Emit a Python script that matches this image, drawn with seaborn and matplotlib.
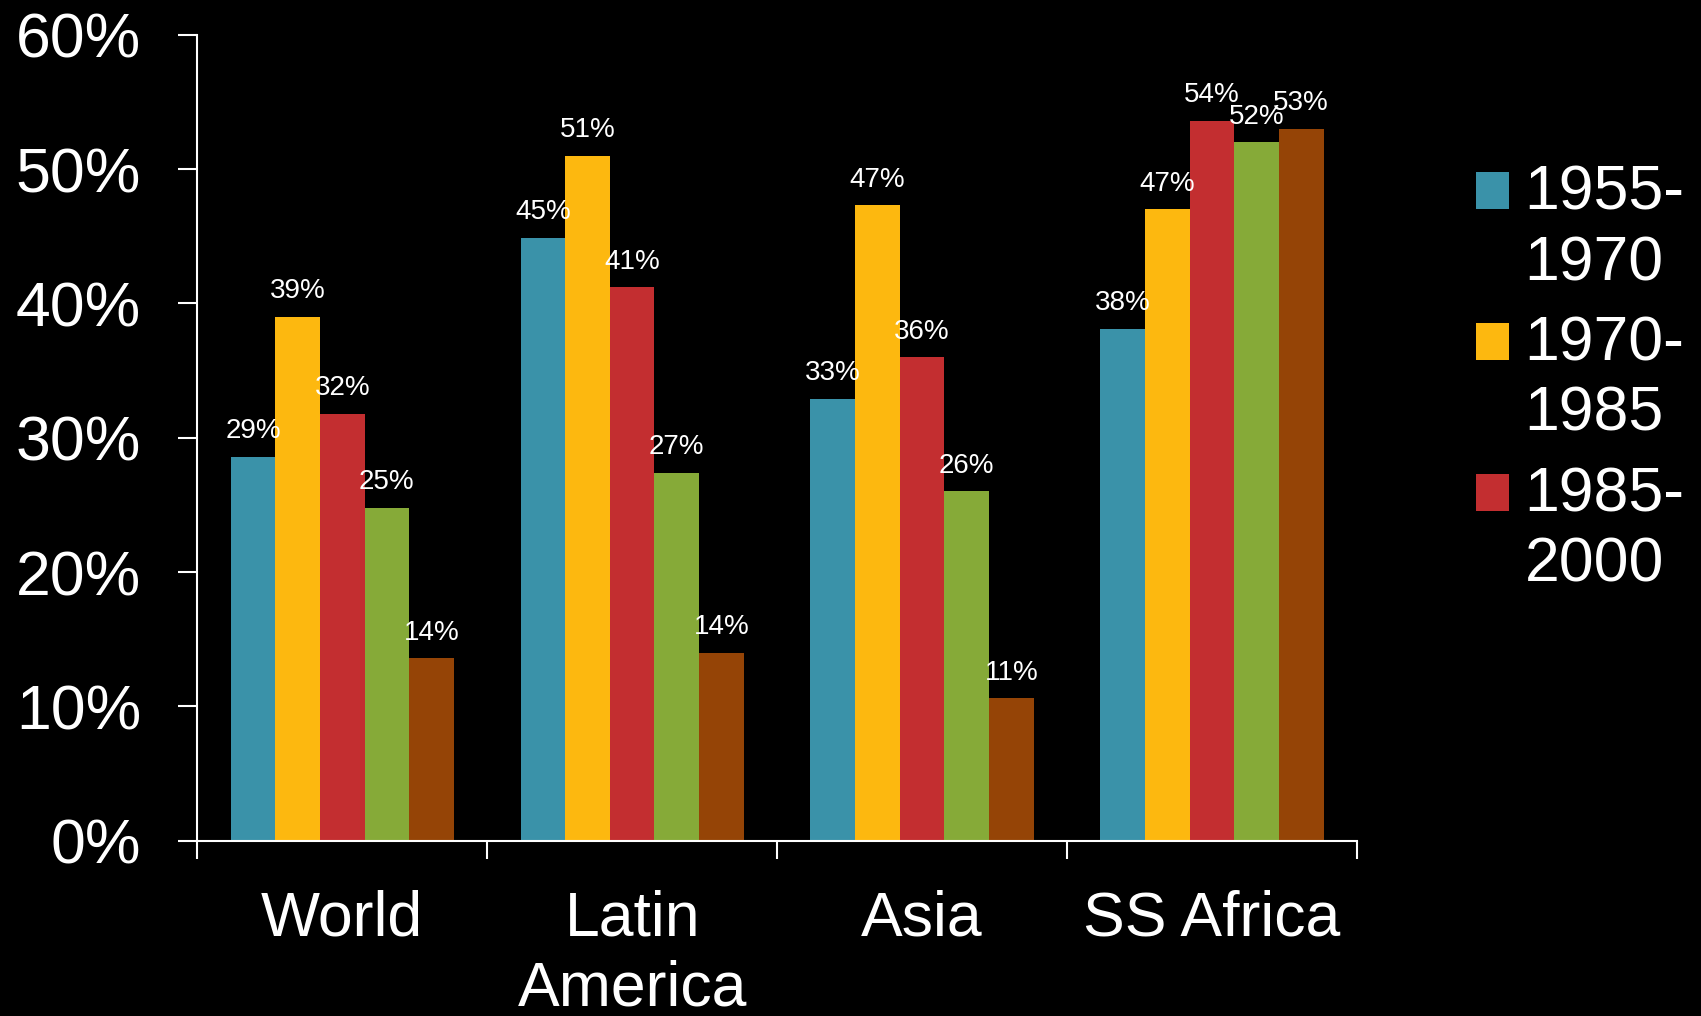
import matplotlib
matplotlib.use("Agg")
import matplotlib.pyplot as plt
import numpy as np
import pandas as pd
import seaborn as sns
from matplotlib.patches import Patch, Rectangle
from matplotlib.legend_handler import HandlerPatch
from matplotlib.ticker import PercentFormatter

# Share of growth by region and period (percent)
regions = ["World", "Latin\nAmerica", "Asia", "SS Africa"]
periods = ["1955-1970", "1970-1985", "1985-2000", "2000-2015", "2015-2030"]
p1955_1970 = [28.6, 44.9, 32.9, 38.1]
p1970_1985 = [39.0, 51.0, 47.3, 47.0]
p1985_2000 = [31.8, 41.2, 36.0, 53.6]
p2000_2015 = [24.8, 27.4, 26.0, 52.0]
p2015_2030 = [13.6, 14.0, 10.6, 53.0]
colors = ["#3A92A9", "#FDB80F", "#C32E30", "#86AA38", "#954406"]
legend_labels = ["1955-\n1970", "1970-\n1985", "1985-\n2000"]

series = [p1955_1970, p1970_1985, p1985_2000, p2000_2015, p2015_2030]
df = pd.DataFrame(
    [(r, p, v) for p, vals in zip(periods, series) for r, v in zip(regions, vals)],
    columns=["region", "period", "value"],
)

sns.set_style("ticks", rc={
    "figure.facecolor": "black",
    "axes.facecolor": "black",
    "axes.edgecolor": "white",
    "xtick.color": "white",
    "ytick.color": "white",
    "text.color": "white",
})
plt.rcParams["font.family"] = ["Liberation Sans", "DejaVu Sans"]

fig = plt.figure(figsize=(17.01, 10.16), dpi=100)
ax = fig.add_axes([0.116, 0.1725, 0.6817, 0.7933])

sns.barplot(data=df, x="region", y="value", hue="period", order=regions,
            hue_order=periods, palette=colors, width=0.77, saturation=1,
            edgecolor="none", legend=False, ax=ax)

for c in ax.containers:
    ax.bar_label(c, fmt="{:.0f}%", padding=9, color="white", fontsize=20)

ax.set_ylim(0, 60)
ax.set_xlim(-0.5, 3.5)
ax.set_yticks(np.arange(0, 61, 10))
ax.yaxis.set_major_formatter(PercentFormatter(xmax=100, decimals=0))
ax.set_xticks([-0.5, 0.5, 1.5, 2.5, 3.5])
ax.set_xticklabels([])
ax.set_xticks(range(len(regions)), minor=True)
ax.set_xticklabels(regions, minor=True)
for t in ax.get_xticklabels(minor=True):
    t.set_linespacing(1.25)
ax.set_xlabel("")
ax.set_ylabel("")

ax.tick_params(axis="x", which="major", length=13, width=1.5, direction="out")
ax.tick_params(axis="x", which="minor", length=0, pad=35, labelsize=45, labelcolor="white")
ax.tick_params(axis="y", length=13.5, width=1.5, pad=27, labelsize=45, labelcolor="white")

for s in ["top", "right"]:
    ax.spines[s].set_visible(False)
for s in ["left", "bottom"]:
    ax.spines[s].set_color("white")
    ax.spines[s].set_linewidth(1.5)


class TopSquare(HandlerPatch):
    """Square legend key aligned with the first line of a two-line label."""

    def create_artists(self, legend, orig_handle, xdescent, ydescent,
                       width, height, fontsize, trans):
        shift = 0.62 * fontsize
        r = Rectangle((-xdescent, -ydescent + shift), width, height,
                      facecolor=orig_handle.get_facecolor(), edgecolor="none",
                      transform=trans)
        return [r]


handles = [Patch(facecolor=col) for col in colors[:3]]
leg = fig.legend(handles=handles, labels=legend_labels, loc="upper left",
                 bbox_to_anchor=(0.8677, 0.8386), frameon=False, fontsize=45,
                 handlelength=0.53, handleheight=0.53, handletextpad=0.25,
                 labelspacing=0.35, borderpad=0, borderaxespad=0,
                 labelcolor="white", handler_map={Patch: TopSquare()})
for t in leg.get_texts():
    t.set_linespacing(1.24)

fig.savefig("out.png", dpi=100, facecolor="black")
